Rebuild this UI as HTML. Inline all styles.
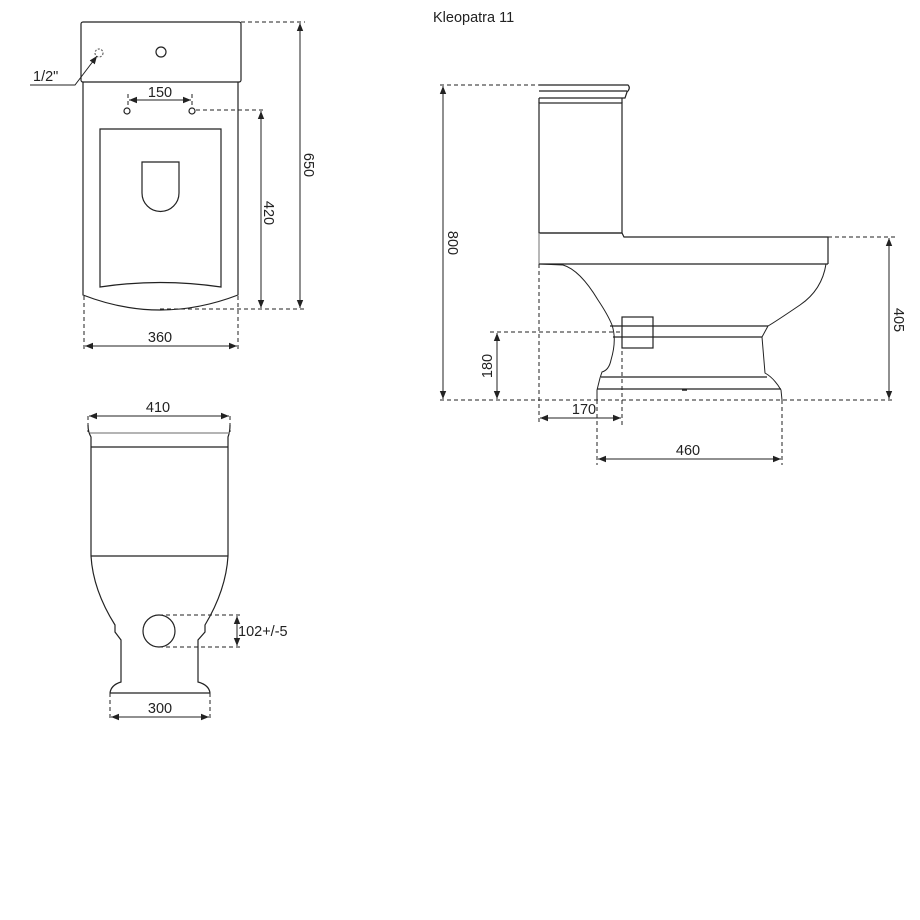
<!DOCTYPE html>
<html><head><meta charset="utf-8"><style>
html,body{margin:0;padding:0;background:#fff}
svg{display:block}
text{font-family:"Liberation Sans",Arial,sans-serif;font-size:14.5px;fill:#222}
</style></head><body>
<svg width="920" height="920" viewBox="0 0 920 920" xmlns="http://www.w3.org/2000/svg">
<defs>
<marker id="a" viewBox="0 0 10 10" refX="10" refY="5" markerWidth="8" markerHeight="8" orient="auto-start-reverse" markerUnits="userSpaceOnUse"><path d="M0,1 L10,5 L0,9 Z" fill="#222"/></marker>
</defs>
<g fill="none" stroke="#222" stroke-width="1.2">
<rect x="81" y="22" width="160" height="60" rx="2"/>
<circle cx="161" cy="52" r="5"/>
<circle cx="99" cy="53" r="4" stroke-dasharray="2,1.5" stroke="#666"/>
<path d="M83,82 L83,295 Q160,325 238,295 L238,82"/>
<path d="M100,129 L221,129 L221,287 Q160,278 100,287 Z"/>
<path d="M142,162 L179,162 L179,193 A18.5,18.5 0 0 1 142,193 Z"/>
<circle cx="127" cy="111" r="3"/>
<circle cx="192" cy="111" r="3"/>
<path d="M30,85 L75,85 L94,60" stroke-width="1"/>
</g>
<g fill="none" stroke="#222" stroke-width="1" stroke-dasharray="4,3">
<path d="M128,94 V106 M192,94 V106"/>
<path d="M196,110 H265"/>
<path d="M160,309 H305"/>
<path d="M241,22 H305"/>
<path d="M84,296 V350 M238,296 V350"/>
</g>
<g stroke="#222" stroke-width="1" fill="none">
<line x1="94" y1="60" x2="97" y2="56" marker-end="url(#a)"/>
<line x1="129" y1="100" x2="191" y2="100" marker-start="url(#a)" marker-end="url(#a)"/>
<line x1="261" y1="111" x2="261" y2="308" marker-start="url(#a)" marker-end="url(#a)"/>
<line x1="300" y1="23" x2="300" y2="308" marker-start="url(#a)" marker-end="url(#a)"/>
<line x1="85" y1="346" x2="237" y2="346" marker-start="url(#a)" marker-end="url(#a)"/>
</g>
<text x="33" y="81">1/2"</text>
<text x="160" y="97" text-anchor="middle">150</text>
<text x="160" y="342" text-anchor="middle">360</text>
<text transform="translate(264,213) rotate(90)" text-anchor="middle">420</text>
<text transform="translate(304,165) rotate(90)" text-anchor="middle">650</text>

<text x="433" y="22">Kleopatra 11</text>
<g fill="none" stroke="#222" stroke-width="1.2">
<path d="M539,85 L628,85 Q631,88 627,92 L625,98 L539,98"/>
<line x1="539" y1="91" x2="627" y2="91"/>
<rect x="539" y="103" width="83" height="130"/>
<path d="M539,98 V103 M622,98 V103"/>
<path d="M539,233 L622,233 L624,237 L828,237 L828,264"/>
<line x1="539" y1="264" x2="828" y2="264"/>
<line x1="539" y1="233" x2="539" y2="264" stroke="#888"/>
<path d="M539,264 L563,265 Q580,270 598,300 Q608,315 612,325 Q617,340 611,360 Q609,370 602,372 L600,378 L597,390 L597,400" stroke-width="1"/>
<path d="M826,264 Q822,290 800,305 Q775,322 768,326 L762,337 L765,373 Q774,378 781,390 L782,400" stroke-width="1"/>
<path d="M610,326 H768 M613,337 H762"/>
<path d="M601,377 H767 M597,389 H781"/>
<rect x="622" y="317" width="31" height="31"/>
<line x1="682" y1="390" x2="687" y2="390" stroke-width="1.5"/>
</g>
<g fill="none" stroke="#222" stroke-width="1" stroke-dasharray="4,3">
<path d="M440,85 H539"/>
<path d="M440,400 H895"/>
<path d="M828,237 H895"/>
<path d="M490,332 H620"/>
<path d="M539,264 V425 M622,337 V425"/>
<path d="M597,400 V465 M782,400 V465"/>
</g>
<g stroke="#222" stroke-width="1" fill="none">
<line x1="443" y1="86" x2="443" y2="399" marker-start="url(#a)" marker-end="url(#a)"/>
<line x1="889" y1="238" x2="889" y2="399" marker-start="url(#a)" marker-end="url(#a)"/>
<line x1="497" y1="333" x2="497" y2="399" marker-start="url(#a)" marker-end="url(#a)"/>
<line x1="540" y1="418" x2="621" y2="418" marker-start="url(#a)" marker-end="url(#a)"/>
<line x1="598" y1="459" x2="781" y2="459" marker-start="url(#a)" marker-end="url(#a)"/>
</g>
<text transform="translate(448,243) rotate(90)" text-anchor="middle">800</text>
<text transform="translate(894,320) rotate(90)" text-anchor="middle">405</text>
<text transform="translate(492,366) rotate(-90)" text-anchor="middle">180</text>
<text x="584" y="414" text-anchor="middle">170</text>
<text x="688" y="455" text-anchor="middle">460</text>

<g fill="none" stroke="#222" stroke-width="1.2">
<path d="M88,425 Q88,432 91,437 L91,447 M230,425 Q230,432 228,437 L228,447"/>
<line x1="90" y1="433" x2="230" y2="433" stroke="#888"/>
<line x1="91" y1="447" x2="228" y2="447"/>
<line x1="91" y1="556" x2="228" y2="556"/>
<path d="M91,447 V556 Q93,590 115,625 L115,632 L121,640 L121,682 Q111,685 110,693"/>
<path d="M228,447 V556 Q226,590 205,625 L205,632 L198,640 L198,682 Q209,685 210,693"/>
<line x1="110" y1="693" x2="210" y2="693"/>
<circle cx="159" cy="631" r="16"/>
</g>
<g fill="none" stroke="#222" stroke-width="1" stroke-dasharray="4,3">
<path d="M88,416 V432 M230,416 V432"/>
<path d="M159,615 H240 M159,647 H240"/>
<path d="M110,693 V720 M210,693 V720"/>
</g>
<g stroke="#222" stroke-width="1" fill="none">
<line x1="89" y1="416" x2="229" y2="416" marker-start="url(#a)" marker-end="url(#a)"/>
<line x1="237" y1="616" x2="237" y2="646" marker-start="url(#a)" marker-end="url(#a)"/>
<line x1="111" y1="717" x2="209" y2="717" marker-start="url(#a)" marker-end="url(#a)"/>
</g>
<text x="158" y="412" text-anchor="middle">410</text>
<text x="238" y="636">102+/-5</text>
<text x="160" y="713" text-anchor="middle">300</text>
</svg>
</body></html>
